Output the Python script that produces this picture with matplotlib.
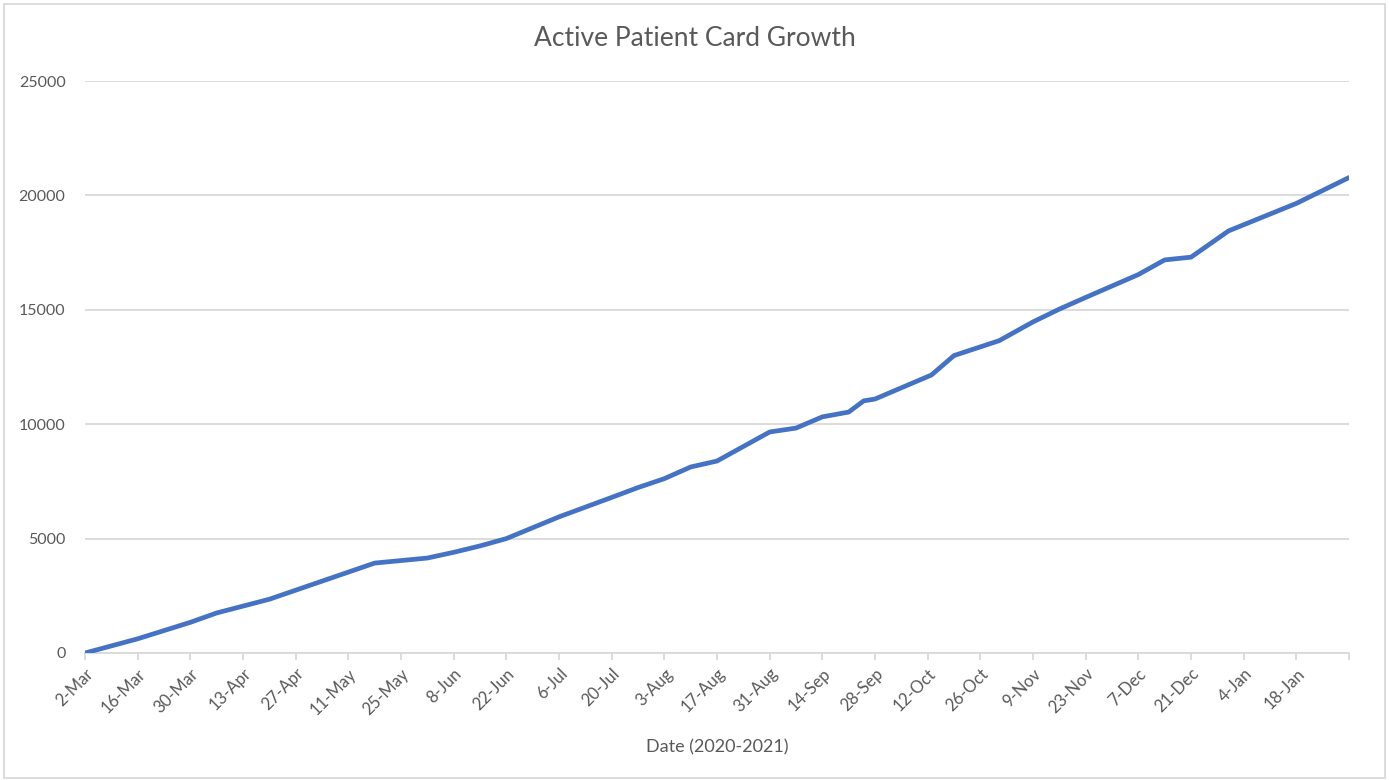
import numpy as np
import pandas as pd
import matplotlib
matplotlib.use('Agg')
import matplotlib.pyplot as plt
import matplotlib.dates as mdates
from matplotlib.patches import Rectangle

plt.rcParams['font.family'] = ['Lato', 'DejaVu Sans']

# data
dates = ['2020-03-02', '2020-03-16', '2020-03-30', '2020-04-06', '2020-04-20',
         '2020-05-04', '2020-05-18', '2020-06-01', '2020-06-08', '2020-06-15',
         '2020-06-22', '2020-07-06', '2020-07-20', '2020-07-27', '2020-08-03',
         '2020-08-10', '2020-08-17', '2020-08-31', '2020-09-07', '2020-09-14',
         '2020-09-21', '2020-09-25', '2020-09-28', '2020-10-13', '2020-10-19',
         '2020-10-31', '2020-11-09', '2020-11-16', '2020-11-23', '2020-12-07',
         '2020-12-14', '2020-12-21', '2020-12-31', '2021-01-18', '2021-02-01']
cards = [0, 620, 1340, 1750, 2350,
         3140, 3930, 4150, 4400, 4680,
         5000, 5950, 6800, 7230, 7620,
         8130, 8390, 9660, 9830, 10320,
         10530, 11020, 11100, 12150, 13000,
         13650, 14470, 15030, 15540, 16540,
         17180, 17300, 18450, 19650, 20780]
dates = pd.to_datetime(dates)

tick_dates = pd.date_range('2020-03-02', '2021-02-01', freq='14D')
tick_labels = [f'{d.day}-{d.strftime("%b")}' for d in tick_dates]
tick_labels[-1] = ''

grey = '#595959'

fig = plt.figure(figsize=(13.89, 7.8), dpi=100)
ax = fig.add_axes([85/1389, 1-653/780, (1349-85)/1389, (653-81)/780])

ax.plot(dates, cards, color='#4472C4', lw=3.4, solid_capstyle='round', solid_joinstyle='round', zorder=3)

ax.set_xlim(tick_dates[0], tick_dates[-1])
ax.set_ylim(0, 25000)
ax.set_yticks(np.arange(0, 25001, 5000))
ax.set_xticks(tick_dates)
ax.set_xticklabels(tick_labels, rotation=45, ha='right', rotation_mode='anchor')

ax.grid(axis='y', color='#d9d9d9', lw=1.3)
for s in ['top', 'right', 'left']:
    ax.spines[s].set_visible(False)
ax.spines['bottom'].set_color('#d9d9d9')
ax.spines['bottom'].set_linewidth(1.3)
ax.tick_params(axis='y', length=0, pad=14, labelsize=11.5, labelcolor=grey)
ax.tick_params(axis='x', length=5, color='#d9d9d9', width=1.3, pad=4, labelsize=12, labelcolor=grey)

fig.text(0.5, 1-39/780, 'Active Patient Card Growth', color=grey, fontsize=19, ha='center', va='center')
ax.set_xlabel('Date (2020-2021)', color=grey, fontsize=13, labelpad=16)

fig.patches.append(Rectangle((4/1389, 1-778/780), 1381/1389, 774/780, transform=fig.transFigure,
                             fill=False, edgecolor='#d9d9d9', lw=1.3))

fig.savefig('out.png', dpi=100, facecolor='white')
